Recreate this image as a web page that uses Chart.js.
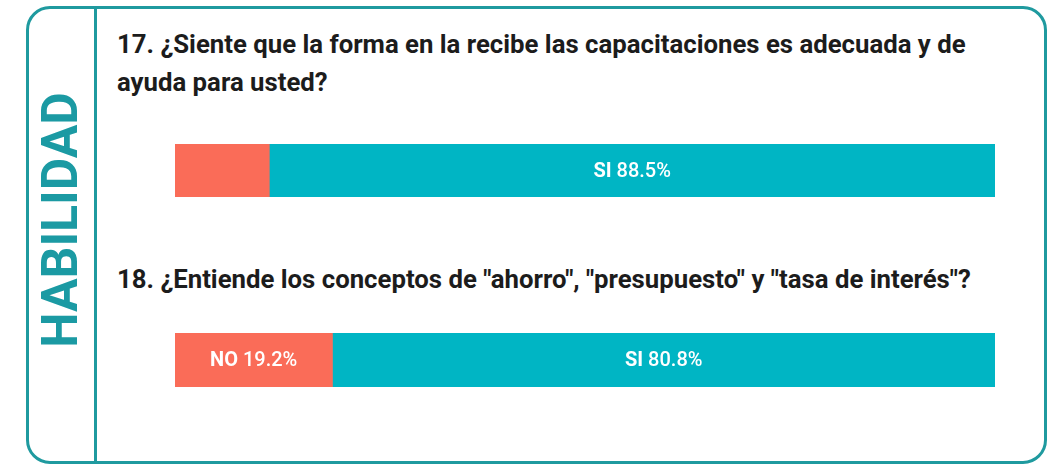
<!DOCTYPE html>
<html>
<head>
<meta charset="utf-8">
<script src="https://cdn.jsdelivr.net/npm/chart.js@4"></script>
<style>
  body { margin: 0; background: #fff; width: 1051px; height: 467px; overflow: hidden; font-family: Roboto, "Noto Sans", sans-serif; }
  #frame { position: absolute; left: 26px; top: 6px; width: 1015px; height: 452px; border: 3px solid #1f9a9f; border-radius: 24px; }
  #divider { position: absolute; left: 94px; top: 6px; width: 3px; height: 458px; background: #1f9a9f; }
  #side { position: absolute; left: 60px; top: 220px; transform: translate(-50%, -50%) rotate(-90deg); font-weight: 700; font-size: 50px; color: #1b9aa3; white-space: nowrap; }
  .title { position: absolute; left: 117px; font-weight: 700; font-size: 26px; line-height: 38px; color: #1c1c1c; white-space: pre; transform-origin: 0 0; transform: scaleX(0.99); }
  .bar { position: absolute; left: 175px; width: 820px; }
</style>
</head>
<body>
<div id="frame"></div>
<div id="divider"></div>
<div id="side">HABILIDAD</div>
<div class="title" id="t0" style="top:25px"></div>
<div class="title" id="t1" style="top:260px"></div>
<div class="bar" style="top:144px;height:53px"><canvas id="c0"></canvas></div>
<div class="bar" style="top:333px;height:54px"><canvas id="c1"></canvas></div>
<script>
// question texts
const questions = [
	'17. ¿Siente que la forma en la recibe las capacitaciones es adecuada y de\nayuda para usted?',
	'18. ¿Entiende los conceptos de "ahorro", "presupuesto" y "tasa de interés"?'
];
const answerNames = ['NO', 'SI'];
const noValues = [11.5, 19.2];
const siValues = [88.5, 80.8];

const noColor = '#fa6c58';
const siColor = '#00b5c4';

// draws "SI 88.5%" inside each segment, name bold and number regular
const segmentLabels = {
	id: 'segmentLabels',
	afterDatasetsDraw: function(chart)
	{
		const ctx = chart.ctx;
		chart.data.datasets.forEach(function(ds, di) {
			const meta = chart.getDatasetMeta(di);
			meta.data.forEach(function(bar, i) {
				const value = ds.data[i];
				if(value < 15)
					return;
				const name = ds.label + ' ';
				const num = value.toFixed(1) + '%';
				ctx.save();
				ctx.fillStyle = '#ffffff';
				ctx.textBaseline = 'middle';
				ctx.font = '700 20px Roboto';
				const w1 = ctx.measureText(name).width;
				ctx.font = '500 20px Roboto';
				const w2 = ctx.measureText(num).width;
				const cx = (bar.x + bar.base) / 2;
				let x = cx - (w1 + w2) / 2;
				ctx.textAlign = 'left';
				ctx.font = '700 20px Roboto';
				ctx.fillText(name, x, bar.y + 1);
				ctx.font = '500 20px Roboto';
				ctx.fillText(num, x + w1, bar.y + 1);
				ctx.restore();
			});
		});
	}
};

function buildChart(index)
{
	document.getElementById('t' + index).textContent = questions[index];
	return new Chart(document.getElementById('c' + index), {
		type: 'bar',
		data: {
			labels: [questions[index]],
			datasets: [
				{ label: answerNames[0], data: [noValues[index]], backgroundColor: noColor, borderWidth: 0, barPercentage: 1, categoryPercentage: 1 },
				{ label: answerNames[1], data: [siValues[index]], backgroundColor: siColor, borderWidth: 0, barPercentage: 1, categoryPercentage: 1 }
			]
		},
		options: {
			indexAxis: 'y',
			responsive: true,
			maintainAspectRatio: false,
			animation: false,
			layout: { padding: 0 },
			scales: {
				x: { stacked: true, min: 0, max: 100, display: false },
				y: { stacked: true, display: false }
			},
			plugins: { legend: { display: false }, tooltip: { enabled: false } }
		},
		plugins: [segmentLabels]
	});
}

const charts = [];
for(let i = 0; i < questions.length; i++)
	charts.push(buildChart(i));
</script>
</body>
</html>
